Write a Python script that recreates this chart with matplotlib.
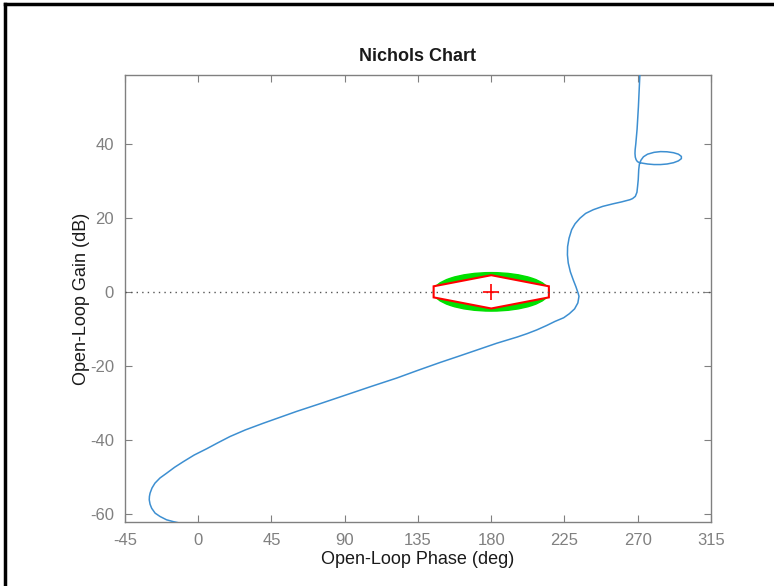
import matplotlib
matplotlib.use("Agg")
import matplotlib.pyplot as plt
from matplotlib.patches import Ellipse, Polygon
from matplotlib.lines import Line2D

plt.rcParams['font.family'] = ['Liberation Sans', 'DejaVu Sans']
plt.rcParams['axes.unicode_minus'] = False

# open-loop response, phase (deg) / gain (dB)
phase = [271.8, 271.3, 270.4, 269.6, 268.8, 268.4, 268.3, 268.5, 269.0, 269.8, 270.8,
         272.5, 276.0, 280.0, 284.0, 288.0, 292.0, 295.0, 296.8, 296.8,
         295.0, 292.0, 288.0, 284.0, 280.0, 276.0, 273.5, 272.0, 271.0,
         270.6, 270.3, 269.9, 269.5, 268.5, 266.8, 265.2, 260.0, 254.9,
         248.5, 242.7, 238.0, 234.5, 231.5, 229.4, 227.8, 226.9, 226.8,
         227.3, 228.6, 230.4, 232.0, 233.4, 233.9, 233.2, 231.2, 228.0,
         224.5, 219.1, 214.0, 207.9, 202.0, 196.0, 183.3, 170.0, 160.0, 148.5,
         135.0, 121.9, 106.0, 91.2, 75.0, 60.5, 40.0, 29.0, 19.5, 12.0,
         5.2, -2.5, -9.2, -14.5, -19.4, -23.5, -26.6, -28.4, -29.6, -30.0,
         -30.1, -29.6, -28.6, -26.5, -23.5, -19.5, -15.3, -11.2]
gain = [62.0, 58.6, 50.0, 44.0, 40.0, 38.4, 37.4, 36.4, 35.7, 35.2, 34.95,
        34.8, 34.55, 34.4, 34.4, 34.55, 34.9, 35.4, 36.0, 36.6,
        37.2, 37.6, 37.85, 37.9, 37.7, 37.2, 36.5, 35.6, 34.5,
        33.0, 30.3, 28.5, 26.9, 25.8, 25.2, 24.9, 24.3, 23.8,
        23.1, 22.2, 21.2, 19.9, 18.4, 16.8, 14.5, 12.2, 10.0,
        7.8, 5.4, 3.2, 1.4, -0.4, -1.2, -3.0, -4.6, -5.9,
        -7.0, -8.0, -9.1, -10.3, -11.3, -12.2, -13.9, -15.9, -17.4, -19.1,
        -21.2, -23.3, -25.6, -27.8, -30.2, -32.3, -35.5, -37.3, -39.1, -40.8,
        -42.4, -44.1, -45.9, -47.4, -49.0, -50.3, -51.7, -53.0, -54.4, -55.3,
        -56.2, -57.4, -58.5, -59.8, -60.7, -61.6, -62.1, -62.5]

# exclusion region around the critical point
crit_phase, crit_gain = 180.0, 0.0
ell_width, ell_height = 71.0, 10.4
hex_phase = [144.6, 180.0, 215.4, 215.4, 180.0, 144.6]
hex_gain = [1.5, 4.5, 1.5, -1.5, -4.5, -1.5]

xticks = [-45, 0, 45, 90, 135, 180, 225, 270, 315]
yticks = [-60, -40, -20, 0, 20, 40]

fig = plt.figure(figsize=(7.74, 5.86), dpi=100)
ax = fig.add_axes([0.1615, 0.1092, 0.7571, 0.7628])

ax.add_patch(Ellipse((crit_phase, crit_gain), ell_width, ell_height,
                     facecolor='#00e000', edgecolor='#00e000', lw=1, zorder=2))
ax.add_patch(Polygon(list(zip(hex_phase, hex_gain)), closed=True,
                     facecolor='white', edgecolor='red', lw=1.5, zorder=3))
ax.axhline(0, color='#555555', ls=(0, (1, 3)), lw=1.0, zorder=4)
ax.plot([crit_phase], [crit_gain], marker='+', color='red', ms=11, mew=1.2, zorder=5)
ax.plot(phase, gain, color='#3d8fd1', lw=1.1, zorder=6)

ax.set_xlim(-45, 315)
ax.set_ylim(-62.2, 58.6)
ax.set_xticks(xticks)
ax.set_yticks(yticks)
ax.tick_params(direction='in', length=5, width=0.8, colors='#808080',
               labelsize=12, top=True, right=True, pad=8)
for s in ax.spines.values():
    s.set_color('#808080')
    s.set_linewidth(1.0)

ax.set_title('Nichols Chart', fontsize=13, fontweight='bold', color='#1a1a1a', pad=10)
ax.set_xlabel('Open-Loop Phase (deg)', fontsize=13, color='#1a1a1a', labelpad=2)
ax.set_ylabel('Open-Loop Gain (dB)', fontsize=13, color='#1a1a1a', labelpad=0)

# window frame
fig.add_artist(Line2D([0.006, 1.0], [0.9935, 0.9935], color='black', lw=2.5))
fig.add_artist(Line2D([0.006, 0.006], [0.0, 0.9935], color='black', lw=2.5))

fig.savefig('out.png', dpi=100)
